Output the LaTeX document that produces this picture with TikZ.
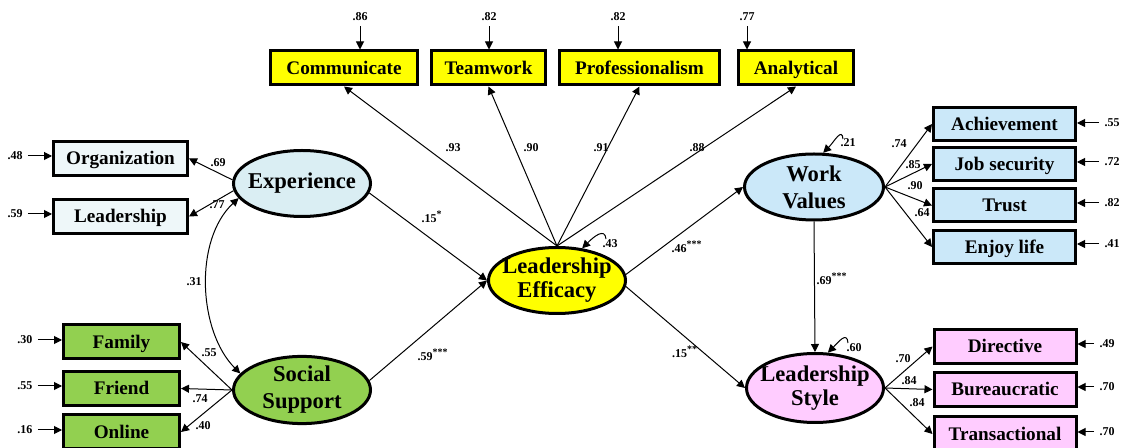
\documentclass[tikz,border=0pt]{standalone}
\usepackage{fontspec}
\setmainfont{Liberation Serif}
\usepackage{xcolor}
\usetikzlibrary{arrows.meta,shapes.geometric}

\definecolor{effyellow}{HTML}{FFFF00}
\definecolor{expfill}{HTML}{DAEEF3}
\definecolor{expbox}{HTML}{EEF7F9}
\definecolor{suppgreen}{HTML}{92D050}
\definecolor{valblue}{HTML}{CBE8F9}
\definecolor{stylepink}{HTML}{FFCCFF}
\newcommand{\zw}[1]{\makebox[0pt]{#1}}

\begin{document}
\begin{tikzpicture}[
  x=0.5pt, y=-0.5pt,
  >={Triangle[length=4pt,width=4pt]},
  obs/.style={draw=black, line width=1.5pt, inner sep=0pt, minimum height=17pt, text height=6.5pt, text depth=0pt, font=\fontsize{9.6}{11}\selectfont\bfseries},
  lat/.style={ellipse, draw=black, line width=1.5pt, inner sep=0pt, align=center, minimum width=68.5pt, minimum height=33pt, font=\fontsize{11.3}{12}\selectfont\bfseries},
  arr/.style={->, line width=0.5pt},
  dbl/.style={<->, line width=0.5pt},
  lab/.style={font=\fontsize{6}{7}\selectfont\bfseries, inner sep=1pt},
  err/.style={lab, inner sep=2.5pt}
]
\useasboundingbox (0,0) rectangle (1125,448);

\node[obs, fill=expbox, minimum width=67pt] (org) at (120.5,158.5) {Organization};
\node[obs, fill=expbox, minimum width=67pt] (ldr) at (120.5,216.5) {Leadership};
\node[obs, fill=suppgreen, minimum width=58pt] (fam) at (121.5,342) {Family};
\node[obs, fill=suppgreen, minimum width=58pt] (fri) at (121.5,388.5) {Friend};
\node[obs, fill=suppgreen, minimum width=58pt] (onl) at (121.5,432) {Online};

\node[obs, fill=effyellow, minimum width=73.5pt] (comm) at (344,68) {Communicate};
\node[obs, fill=effyellow, minimum width=57pt] (team) at (488.5,68) {Teamwork};
\node[obs, fill=effyellow, minimum width=80pt] (prof) at (639.5,68) {Professionalism};
\node[obs, fill=effyellow, minimum width=57.5pt] (ana) at (796,68) {Analytical};

\node[obs, fill=valblue, minimum width=71pt, minimum height=16.5pt] (ach) at (1004.5,124) {Achievement};
\node[obs, fill=valblue, minimum width=71pt, minimum height=16.5pt] (job) at (1004.5,164) {Job security};
\node[obs, fill=valblue, minimum width=71pt, minimum height=16.5pt] (tru) at (1004.5,205.5) {Trust};
\node[obs, fill=valblue, minimum width=71pt, minimum height=16.5pt] (enj) at (1004.5,247) {Enjoy life};

\node[obs, fill=stylepink, minimum width=71pt] (dir) at (1005,346.5) {Directive};
\node[obs, fill=stylepink, minimum width=71pt] (bur) at (1005,389.5) {Bureaucratic};
\node[obs, fill=stylepink, minimum width=71pt] (tra) at (1005,434) {Transactional};

\node[lat, fill=expfill] (exp) at (302,183.5) {\zw{Experience}};
\node[lat, fill=suppgreen, minimum height=32pt] (ss) at (302,390) {\zw{Social}\\[1.5pt]\zw{Support}};
\node[lat, fill=effyellow] (le) at (557,280.5) {\zw{Leadership}\\\zw{Efficacy}};
\node[lat, fill=valblue, minimum width=69.5pt] (wv) at (814,187) {\zw{Work}\\[1.5pt]\zw{Values}};
\node[lat, fill=stylepink, minimum height=34.5pt] (ls) at (815,388) {\zw{Leadership}\\\zw{Style}};

\node[err] (e48) at (15,156) {.48};
\node[err] (e59) at (15,214) {.59};
\node[err] (e30) at (25,340) {.30};
\node[err] (e55) at (25,386) {.55};
\node[err] (e16) at (25,430) {.16};
\draw[arr] (e48) -- (e48 -| org.west);
\draw[arr] (e59) -- (e59 -| ldr.west);
\draw[arr] (e30) -- (e30 -| fam.west);
\draw[arr] (e55) -- (e55 -| fri.west);
\draw[arr] (e16) -- (e16 -| onl.west);

\node[err] (e86) at (360,17) {.86};
\node[err] (e82a) at (489,17) {.82};
\node[err] (e82b) at (618,17) {.82};
\node[err] (e77) at (747,17) {.77};
\draw[arr] (e86) -- (e86 |- comm.north);
\draw[arr] (e82a) -- (e82a |- team.north);
\draw[arr] (e82b) -- (e82b |- prof.north);
\draw[arr] (e77) -- (e77 |- ana.north);

\node[err] (r55) at (1112,123) {.55};
\node[err] (r72) at (1112,162) {.72};
\node[err] (r82) at (1112,203) {.82};
\node[err] (r41) at (1112,244) {.41};
\node[err] (r49) at (1107,344) {.49};
\node[err] (r70a) at (1107,387) {.70};
\node[err] (r70b) at (1107,432) {.70};
\draw[arr] (r55) -- (r55 -| ach.east);
\draw[arr] (r72) -- (r72 -| job.east);
\draw[arr] (r82) -- (r82 -| tru.east);
\draw[arr] (r41) -- (r41 -| enj.east);
\draw[arr] (r49) -- (r49 -| dir.east);
\draw[arr] (r70a) -- (r70a -| bur.east);
\draw[arr] (r70b) -- (r70b -| tra.east);

\draw[arr] (exp.177) -- (org.east);
\draw[arr] (exp.186) -- (ldr.east);
\draw[arr] (ss.west) -- (fam.east);
\draw[arr] (ss.west) -- (fri.east);
\draw[arr] (ss.west) -- (onl.east);
\draw[dbl] (exp.193) .. controls +(-45,42) and +(-42,-42) .. (ss.165);

\draw[arr] (exp.352) -- (le.west);
\draw[arr] (ss.8) -- (le.west);
\draw[arr] (le.north) -- (comm.south);
\draw[arr] (le.north) -- (team.south);
\draw[arr] (le.north) -- (prof.south);
\draw[arr] (le.north) -- (ana.south);
\draw[arr] (le.5) -- (wv.west);
\draw[arr] (le.355) -- (ls.west);
\draw[arr] (wv.south) -- (ls.north);

\draw[arr] (wv.east) -- (ach.west);
\draw[arr] (wv.east) -- (job.west);
\draw[arr] (wv.east) -- (tru.west);
\draw[arr] (wv.east) -- (enj.west);
\draw[arr] (ls.east) -- (dir.west);
\draw[arr] (ls.east) -- (bur.west);
\draw[arr] (ls.east) -- (tra.west);

\coordinate (rle) at (606,239);
\coordinate (rwv) at (843,139);
\coordinate (rls) at (848,343);
\draw[arr] (rle) .. controls +(-1,-12) and +(11,-11) .. (le.52);
\draw[arr] (rwv) .. controls +(-1,-12) and +(11,-11) .. (wv.75);
\draw[arr] (rls) .. controls +(-1,-12) and +(11,-11) .. (ls.70);

\node[lab] (l69) at (218,163) {.69};
\node[lab] (l77) at (217,205) {.77};
\node[lab] (l31) at (194,282) {.31};
\node[lab] (l55) at (209,353) {.55};
\node[lab] (l74) at (200,399) {.74};
\node[lab] (l40) at (203,426) {.40};
\node[lab] (l15a) at (432,217) {.15\textsuperscript{*}};
\node[lab] (l59) at (433,355) {.59\textsuperscript{***}};
\node[lab] (l93) at (453,148) {.93};
\node[lab] (l90) at (531,148) {.90};
\node[lab] (l91) at (601,148) {.91};
\node[lab] (l88) at (697,148) {.88};
\node[lab] (l43) at (610,244) {.43};
\node[lab] (l21) at (848,143) {.21};
\node[lab] (l60) at (854,348) {.60};
\node[lab] (l46) at (687,247) {.46\textsuperscript{***}};
\node[lab] (l15b) at (685,352) {.15\textsuperscript{**}};
\node[lab] (l69b) at (832,279) {.69\textsuperscript{***}};
\node[lab] (l74b) at (899,144) {.74};
\node[lab] (l85) at (913,165) {.85};
\node[lab] (l90b) at (915,186) {.90};
\node[lab] (l64) at (922,213) {.64};
\node[lab] (l70) at (903,359) {.70};
\node[lab] (l84a) at (909,381) {.84};
\node[lab] (l84b) at (917,403) {.84};
\end{tikzpicture}
\end{document}
